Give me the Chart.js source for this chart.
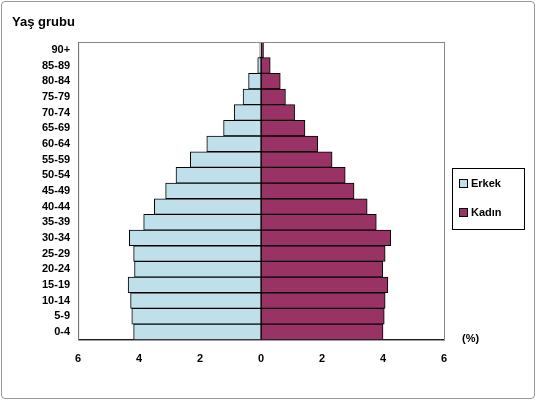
<!DOCTYPE html>
<html><head><meta charset="utf-8">
<script src="https://cdn.jsdelivr.net/npm/chart.js@4"></script>
<style>
body{margin:0;background:#fff;font-family:"Liberation Sans",Arial,sans-serif;}
#wrap{position:relative;width:536px;height:400px;}
#frame{position:absolute;left:1px;top:1px;width:532px;height:396px;border:1px solid #999;border-radius:4px;}
#title{position:absolute;left:12px;top:14px;font-weight:bold;font-size:13px;}
#pct{position:absolute;left:462px;top:332px;font-weight:bold;font-size:11px;}
#legend{position:absolute;left:452px;top:168px;width:71px;height:60px;border:1px solid #000;font-size:11px;font-weight:bold;}
.it{position:absolute;left:6px;display:flex;align-items:center;}
.sw{width:7px;height:7px;border:1px solid #000;margin-right:3px;}
</style></head><body>
<div id="wrap">
<canvas id="c" width="536" height="400"></canvas>
<div id="frame"></div>
<div id="title">Yaş grubu</div>
<div id="pct">(%)</div>
<div id="legend">
<div class="it" style="top:8px"><div class="sw" style="background:#bfe0ea"></div>Erkek</div>
<div class="it" style="top:37px"><div class="sw" style="background:#993366"></div>Kadın</div>
</div>
</div>
<script>
const ageGroups=["90+","85-89","80-84","75-79","70-74","65-69","60-64","55-59","50-54","45-49","40-44","35-39","30-34","25-29","20-24","15-19","10-14","5-9","0-4"];
const male=[0.04,0.11,0.41,0.59,0.88,1.23,1.78,2.32,2.79,3.13,3.50,3.85,4.32,4.18,4.15,4.36,4.28,4.24,4.18];
const female=[0.08,0.30,0.63,0.80,1.10,1.44,1.86,2.33,2.76,3.05,3.48,3.78,4.25,4.07,3.99,4.16,4.07,4.04,4.00];
const xTicks=[-6,-4,-2,0,2,4,6];
const F={family:"'Liberation Sans', Arial, sans-serif",size:11,weight:'bold'};
const border={id:'bd',afterDraw(ch){const a=ch.chartArea,x=ch.ctx;x.save();x.strokeStyle='#888';x.lineWidth=1;x.strokeRect(a.left+.5,a.top+.5,a.right-a.left,a.bottom-a.top);x.restore();}};
new Chart(document.getElementById('c'),{type:'bar',
data:{labels:ageGroups,datasets:[
{label:'Erkek',data:male.map(v=>-v),backgroundColor:'#bfe0ea',borderColor:'#000',borderWidth:1,borderSkipped:false},
{label:'Kadın',data:female,backgroundColor:'#993366',borderColor:'#000',borderWidth:1,borderSkipped:false}]},
options:{indexAxis:'y',responsive:false,animation:false,
layout:{padding:{left:38,right:92,top:42,bottom:26}},
plugins:{legend:{display:false},tooltip:{enabled:false}},
datasets:{bar:{barPercentage:1,categoryPercentage:1}},
scales:{
x:{min:-6,max:6,afterBuildTicks(s){s.ticks=xTicks.map(v=>({value:v}));},
ticks:{callback:v=>Math.abs(v),color:'#000',font:F,padding:8},
grid:{display:false,drawTicks:true,tickLength:5,color:'#000'},border:{color:'#000'}},
y:{stacked:true,ticks:{color:'#000',font:F,autoSkip:false,padding:4},
grid:{display:false,drawTicks:true,tickLength:4},border:{color:'#000'}}}},
plugins:[border]});
</script></body></html>
